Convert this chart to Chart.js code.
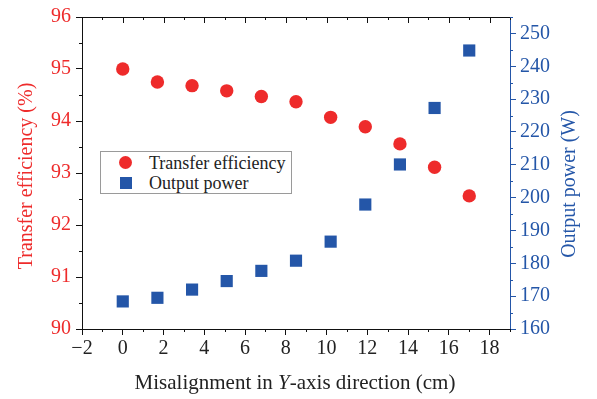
<!DOCTYPE html>
<html>
<head>
<meta charset="utf-8">
<script src="https://cdn.jsdelivr.net/npm/chart.js@4.4.0/dist/chart.umd.min.js"></script>
<style>
  body { margin: 0; background: #fff; }
  #wrap { position: relative; width: 597px; height: 399px; }
  #legend {
    position: absolute; left: 100px; top: 151px; width: 190px; height: 41px;
    border: 1px solid #9a9a9a; background: #fff;
    font-family: "Liberation Serif", "DejaVu Serif", Times, serif; font-size: 18px; color: #222;
  }
  #legend .item { position: absolute; left: 0; height: 20px; line-height: 20px; }
  #legend .mark { position: absolute; }
  #legend .label { position: absolute; left: 48px; white-space: nowrap; }
</style>
</head>
<body>
<div id="wrap">
  <canvas id="effChart" width="597" height="399"></canvas>
  <div id="legend"></div>
</div>
<script>
// 오정렬 거리 (cm)
const offsets = [0, 1.7, 3.4, 5.1, 6.8, 8.5, 10.2, 11.9, 13.6, 15.3, 17];
// 전송 효율 (%)
const efficiency = [95.0, 94.75, 94.68, 94.58, 94.47, 94.37, 94.07, 93.89, 93.56, 93.11, 92.56];
// 출력 전력 (W)
const power = [168.4, 169.5, 172.0, 174.6, 177.7, 180.8, 186.6, 197.9, 210.1, 227.3, 244.8];

const xTicks = [-2, 0, 2, 4, 6, 8, 10, 12, 14, 16, 18];
const effTicks = [90, 91, 92, 93, 94, 95, 96];
const powerTicks = [160, 170, 180, 190, 200, 210, 220, 230, 240, 250];

const RED = '#ee2b2b';
const BLUE = '#2456a8';
const SERIF = '"Liberation Serif", "DejaVu Serif", Times, serif';

const minus = v => String(v).replace('-', '\u2212');

// 세로 축 제목 (아래에서 위로 읽힘)
function vTitle(ctx, text, x, y, color) {
  ctx.save();
  ctx.translate(x, y);
  ctx.rotate(-Math.PI / 2);
  ctx.fillStyle = color;
  ctx.font = '20px ' + SERIF;
  ctx.textAlign = 'center';
  ctx.textBaseline = 'middle';
  ctx.fillText(text, 0, 0);
  ctx.restore();
}

// 보조 눈금 + 위쪽 테두리 + 축 제목 직접 그리기
const extras = {
  id: 'extras',
  afterDraw(chart) {
    const { ctx, chartArea: a, scales } = chart;
    ctx.save();
    ctx.lineWidth = 1;

    // 위쪽 테두리
    ctx.strokeStyle = '#111';
    ctx.beginPath();
    ctx.moveTo(a.left, a.top + 0.5);
    ctx.lineTo(a.right, a.top + 0.5);
    ctx.stroke();

    // x축 보조 눈금 (아래) + 위쪽 눈금 (안쪽)
    ctx.beginPath();
    for (let v = -2; v <= 19; v++) {
      const px = Math.round(scales.x.getPixelForValue(v)) + 0.5;
      if (v % 2 !== 0) {
        ctx.moveTo(px, a.bottom);
        ctx.lineTo(px, a.bottom + 3);
      }
      const len = v % 2 === 0 ? 6 : 3;
      ctx.moveTo(px, a.top);
      ctx.lineTo(px, a.top + len);
    }
    ctx.stroke();

    // 왼쪽 보조 눈금
    ctx.beginPath();
    for (let v = 90.5; v < 96; v += 1) {
      const py = Math.round(scales.y.getPixelForValue(v)) + 0.5;
      ctx.moveTo(a.left, py);
      ctx.lineTo(a.left - 3, py);
    }
    ctx.stroke();

    // 오른쪽 보조 눈금
    ctx.strokeStyle = BLUE;
    ctx.beginPath();
    for (let v = 165; v <= 255; v += 10) {
      const py = Math.round(scales.y1.getPixelForValue(v)) + 0.5;
      ctx.moveTo(a.right, py);
      ctx.lineTo(a.right + 3, py);
    }
    ctx.stroke();

    // x축 제목 (Y만 기울임)
    const parts = [
      ['Misalignment in ', 'normal'],
      ['Y', 'italic'],
      ['-axis direction (cm)', 'normal']
    ];
    ctx.fillStyle = '#222';
    ctx.textBaseline = 'middle';
    ctx.textAlign = 'left';
    let total = 0;
    parts.forEach(([t, st]) => {
      ctx.font = st + ' 21px ' + SERIF;
      total += ctx.measureText(t).width;
    });
    let tx = 295 - total / 2;
    parts.forEach(([t, st]) => {
      ctx.font = st + ' 21px ' + SERIF;
      ctx.fillText(t, tx, 383);
      tx += ctx.measureText(t).width;
    });
    ctx.restore();

    vTitle(ctx, 'Transfer efficiency (%)', 27, 176, RED);
    vTitle(ctx, 'Output power (W)', 570, 184, BLUE);
  }
};

const chart = new Chart(document.getElementById('effChart'), {
  type: 'scatter',
  data: {
    datasets: [{
      label: 'Transfer efficiency',
      data: offsets.map((x, i) => ({ x, y: efficiency[i] })),
      yAxisID: 'y',
      pointStyle: 'circle',
      pointRadius: 6.7,
      pointHoverRadius: 6.7,
      backgroundColor: RED,
      borderWidth: 0
    }, {
      label: 'Output power',
      data: offsets.map((x, i) => ({ x, y: power[i] })),
      yAxisID: 'y1',
      pointStyle: 'rect',
      pointRadius: 8.6,
      pointHoverRadius: 8.6,
      backgroundColor: BLUE,
      borderWidth: 0
    }]
  },
  options: {
    responsive: false,
    animation: false,
    layout: { padding: { top: 14, left: 0, right: 0, bottom: 0 } },
    plugins: {
      legend: { display: false },
      tooltip: { enabled: false }
    },
    scales: {
      x: {
        type: 'linear',
        min: -2,
        max: 19,
        afterBuildTicks: s => { s.ticks = xTicks.map(value => ({ value })); },
        afterFit: s => { s.height = 70; },
        grid: { drawOnChartArea: false, tickLength: 6, color: '#111' },
        border: { color: '#111', width: 1 },
        ticks: {
          color: '#222', padding: 2,
          font: { family: SERIF, size: 20 },
          callback: minus
        }
      },
      y: {
        position: 'left',
        min: 90,
        max: 96,
        afterBuildTicks: s => { s.ticks = effTicks.map(value => ({ value })); },
        afterFit: s => { s.width = 82; },
        grid: { drawOnChartArea: false, tickLength: 6, color: '#111' },
        border: { color: '#111', width: 1 },
        ticks: {
          color: RED, padding: 5,
          font: { family: SERIF, size: 20 }
        }
      },
      y1: {
        position: 'right',
        min: 160,
        max: 255,
        afterBuildTicks: s => { s.ticks = powerTicks.map(value => ({ value })); },
        afterFit: s => { s.width = 87; },
        grid: { drawOnChartArea: false, tickLength: 6, color: BLUE },
        border: { color: BLUE, width: 1 },
        ticks: {
          color: BLUE, padding: 4,
          font: { family: SERIF, size: 20 }
        }
      }
    }
  },
  plugins: [extras]
});

// 범례 (HTML)
const legendBox = document.getElementById('legend');
chart.data.datasets.forEach((ds, i) => {
  const item = document.createElement('div');
  item.className = 'item';
  item.style.top = (1 + i * 20) + 'px';
  item.style.width = '100%';
  const mark = document.createElement('span');
  mark.className = 'mark';
  if (ds.pointStyle === 'circle') {
    Object.assign(mark.style, { left: '18px', top: '3px', width: '13px', height: '13px', borderRadius: '50%' });
  } else {
    Object.assign(mark.style, { left: '19px', top: '4px', width: '12px', height: '12px' });
  }
  mark.style.background = ds.backgroundColor;
  const label = document.createElement('span');
  label.className = 'label';
  label.textContent = ds.label;
  item.appendChild(mark);
  item.appendChild(label);
  legendBox.appendChild(item);
});
</script>
</body>
</html>
